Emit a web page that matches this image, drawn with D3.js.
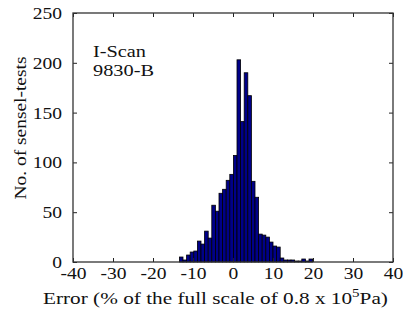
<!DOCTYPE html>
<html>
<head>
<meta charset="utf-8">
<script src="https://cdn.jsdelivr.net/npm/d3@7"></script>
<style>
  html, body { margin: 0; padding: 0; background: #fff; }
  svg { display: block; }
  text { font-family: "Liberation Serif", "Times New Roman", "DejaVu Serif", serif; fill: #111; }
</style>
</head>
<body>
<svg id="chart" width="403" height="310"></svg>
<script>
// Histogram bins: left edge of first bin and bin width (in % error), counts per bin
const binStart = -13.4;
const binWidth = 0.9;
const counts = [5, 2, 7, 10, 11, 21, 18, 31, 24, 57, 51, 69, 73, 82, 88, 107, 203, 141, 190, 167,
                81, 65, 28, 27, 25, 20, 16, 15, 4, 2, 2, 2, 1, 1, 3, 1, 3, 0];
const xTicks = [-40, -30, -20, -10, 0, 10, 20, 30, 40];
const yTicks = [0, 50, 100, 150, 200, 250];
const annotation = ["I-Scan", "9830-B"];

(function () {
const FONT = '"Liberation Serif", "Times New Roman", "DejaVu Serif", serif';
const svg = d3.select("#chart");
const mL = 73, mR = 393, mT = 13, mB = 262;
const x = d3.scaleLinear().domain([-40, 40]).range([mL, mR]);
const y = d3.scaleLinear().domain([0, 250]).range([mB, mT]);

const bins = counts.map((c, i) => ({ x0: binStart + i * binWidth, x1: binStart + (i + 1) * binWidth, c }));

svg.append("g").selectAll("rect").data(bins.filter(d => d.c > 0)).join("rect")
  .attr("x", d => x(d.x0))
  .attr("width", d => x(d.x1) - x(d.x0))
  .attr("y", d => y(d.c))
  .attr("height", d => y(0) - y(d.c))
  .attr("fill", "#000088")
  .attr("stroke", "#000")
  .attr("stroke-width", 0.8);

const fs = 17;
const fmt = d => String(d);
const gb = svg.append("g").attr("transform", `translate(0,${mB})`)
  .call(d3.axisBottom(x).tickValues(xTicks).tickFormat(fmt).tickSizeInner(-4).tickSizeOuter(0).tickPadding(5));
const gl = svg.append("g").attr("transform", `translate(${mL},0)`)
  .call(d3.axisLeft(y).tickValues(yTicks).tickFormat(fmt).tickSizeInner(-4).tickSizeOuter(0).tickPadding(11));
const gt = svg.append("g").attr("transform", `translate(0,${mT})`)
  .call(d3.axisTop(x).tickValues(xTicks).tickSizeInner(-4).tickSizeOuter(0).tickFormat(""));
const gr = svg.append("g").attr("transform", `translate(${mR},0)`)
  .call(d3.axisRight(y).tickValues(yTicks).tickSizeInner(-4).tickSizeOuter(0).tickFormat(""));

[gb, gl, gt, gr].forEach(g => {
  g.attr("font-family", null);
  g.select(".domain").remove();
  g.selectAll(".tick line").attr("stroke", "#222").attr("stroke-width", 1);
  g.selectAll("text").style("font-family", FONT).attr("font-size", fs).attr("fill", "#111");
});
// slight horizontal widening of tick labels, as in the reference
gb.selectAll(".tick text").attr("transform", "scale(1.15,1)");
gl.selectAll(".tick text").attr("x", -11 / 1.15).attr("transform", "scale(1.15,1)");

svg.append("rect")
  .attr("x", mL).attr("y", mT)
  .attr("width", mR - mL).attr("height", mB - mT)
  .attr("fill", "none").attr("stroke", "#333").attr("stroke-width", 1.3);

// annotation
const annLen = [53, 61];
svg.append("g").selectAll("text").data(annotation).join("text")
  .attr("x", 93).attr("y", (d, i) => 57 + i * 18.5)
  .style("font-family", FONT)
  .attr("font-size", 16).attr("fill", "#000")
  .attr("textLength", (d, i) => annLen[i]).attr("lengthAdjust", "spacingAndGlyphs")
  .text(d => d);

// y label
svg.append("text")
  .attr("transform", "translate(26,128) rotate(-90)")
  .attr("text-anchor", "middle")
  .style("font-family", FONT)
  .attr("font-size", 17)
  .attr("textLength", 143).attr("lengthAdjust", "spacingAndGlyphs")
  .text("No. of sensel-tests");

// x label
const xl = svg.append("text")
  .attr("x", 43).attr("y", 304)
  .attr("text-anchor", "start")
  .style("font-family", FONT)
  .attr("font-size", 17)
  .attr("transform", "translate(43,0) scale(1.25,1) translate(-43,0)");
xl.append("tspan").text("Error (% of the full scale of 0.8 x 10");
xl.append("tspan").attr("font-size", 12).attr("dy", -7).text("5");
xl.append("tspan").attr("dy", 7).text("Pa)");
})();
</script>
</body>
</html>
